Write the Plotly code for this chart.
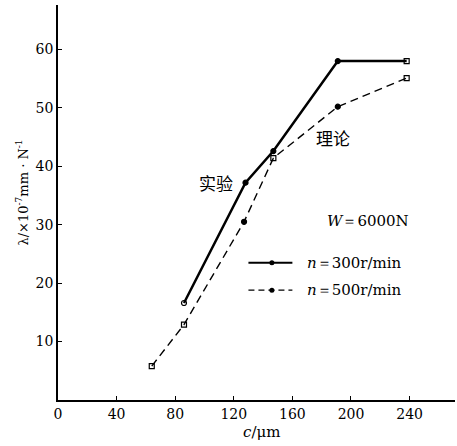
import plotly.graph_objects as go

# data
c_300 = [86, 128, 147, 191, 238]
lam_300 = [16.6, 37.2, 42.6, 58.0, 58.0]
sym_300 = ["circle-open", "circle", "circle", "circle", "square-open"]

c_500 = [64, 86, 127, 147, 191, 238]
lam_500 = [5.8, 12.9, 30.5, 41.4, 50.2, 55.1]
sym_500 = ["square-open", "square-open", "circle", "square-open", "circle", "square-open"]

x_ticks = [0, 40, 80, 120, 160, 200, 240]
y_ticks = [10, 20, 30, 40, 50, 60]

serif = "DejaVu Serif"
cjk = "Noto Sans CJK SC"

fig = go.Figure()
fig.add_trace(go.Scatter(x=c_300, y=lam_300, mode="lines+markers",
                         line=dict(color="black", width=2.5),
                         marker=dict(symbol=sym_300, size=5, color="black",
                                     line=dict(color="black", width=1.2)),
                         showlegend=False))
fig.add_trace(go.Scatter(x=c_500, y=lam_500, mode="lines+markers",
                         line=dict(color="black", width=1.4, dash="8px,5px"),
                         marker=dict(symbol=sym_500, size=5, color="black",
                                     line=dict(color="black", width=1.2)),
                         showlegend=False))

# legend samples drawn in data space
leg_x = [130, 146, 160]
fig.add_trace(go.Scatter(x=[leg_x[0], leg_x[2]], y=[23.5, 23.5], mode="lines",
                         line=dict(color="black", width=2), showlegend=False))
fig.add_trace(go.Scatter(x=[leg_x[1]], y=[23.5], mode="markers",
                         marker=dict(symbol="circle", size=5, color="black"), showlegend=False))
fig.add_trace(go.Scatter(x=[leg_x[0], leg_x[2]], y=[18.8, 18.8], mode="lines",
                         line=dict(color="black", width=1.4, dash="6px,4px"), showlegend=False))
fig.add_trace(go.Scatter(x=[leg_x[1]], y=[18.8], mode="markers",
                         marker=dict(symbol="circle", size=5, color="black"), showlegend=False))

ann = [
    dict(x=108, y=37.2, text="实验", font=dict(family=cjk, size=17, color="black")),
    dict(x=188, y=45.0, text="理论", font=dict(family=cjk, size=17, color="black")),
    dict(x=211.5, y=30.6, text="<i>W</i>＝6000N", font=dict(family=serif, size=15, color="black")),
    dict(x=168.5, y=23.5, text="<i>n</i>＝300r/min", xanchor="left", font=dict(family=serif, size=15, color="black")),
    dict(x=168.5, y=18.8, text="<i>n</i>＝500r/min", xanchor="left", font=dict(family=serif, size=15, color="black")),
]
for a in ann:
    a.setdefault("xanchor", "center")
    fig.add_annotation(xref="x", yref="y", showarrow=False, yanchor="middle", **a)

fig.add_annotation(xref="paper", yref="y", x=0, y=35.5, xshift=-36, textangle=-90,
                   xanchor="center", yanchor="middle",
                   text="λ/×10<sup>-7</sup>mm · N<sup>-1</sup>", showarrow=False,
                   font=dict(family=serif, size=13, color="black"))
fig.add_annotation(xref="x", yref="paper", x=139, y=0, yshift=-32,
                   xanchor="center", yanchor="middle",
                   text="<i>c</i>/μm", showarrow=False,
                   font=dict(family=serif, size=15, color="black"))

fig.update_layout(
    width=457, height=446,
    margin=dict(l=58, r=2, t=5, b=46),
    paper_bgcolor="white", plot_bgcolor="white",
    xaxis=dict(range=[0, 271], tickvals=x_ticks, ticktext=[str(v) for v in x_ticks],
               showline=True, linecolor="black", linewidth=1.5, mirror=False,
               ticks="inside", ticklen=4, tickcolor="black", showgrid=False, zeroline=False,
               tickfont=dict(family=serif, size=14, color="black")),
    yaxis=dict(range=[0, 67.6], tickvals=y_ticks, ticktext=[str(v) for v in y_ticks],
               showline=True, linecolor="black", linewidth=1.5, mirror=False,
               ticks="inside", ticklen=4, tickcolor="black", showgrid=False, zeroline=False,
               tickfont=dict(family=serif, size=14, color="black")),
)

fig.write_html("out.html")
